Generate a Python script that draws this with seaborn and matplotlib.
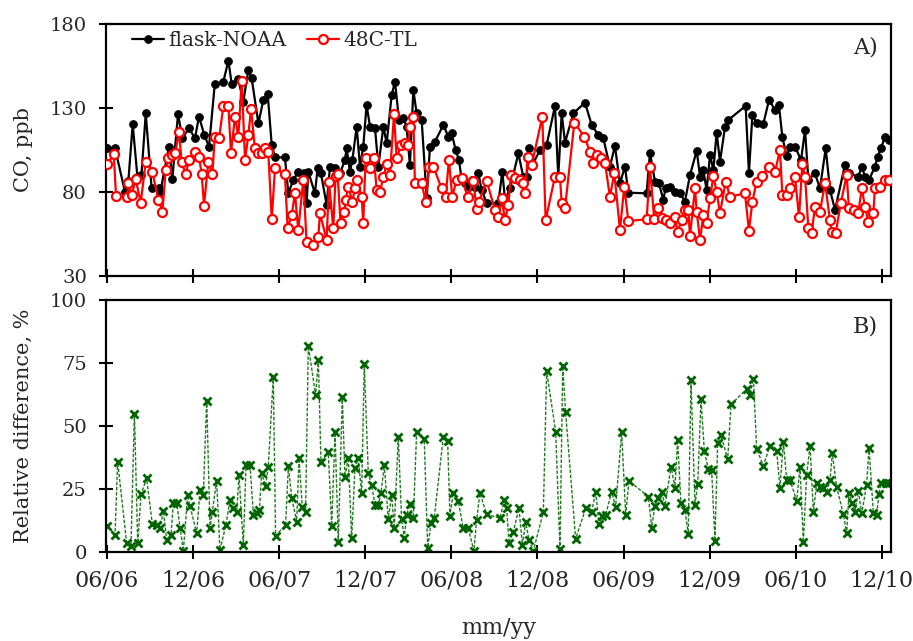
import matplotlib
matplotlib.use("Agg")
import matplotlib.pyplot as plt
import seaborn as sns
import pandas as pd

# ---- data (x = months since June 2006) ----
flask_month = [0.0, 0.56, 1.25, 1.49, 1.79, 2.12, 2.40, 2.70, 3.11, 3.62, 3.72, 4.32, 4.55, 4.95,
               5.25, 5.71, 6.13, 6.41, 6.78, 7.11, 7.51, 8.11, 8.46, 8.69, 9.15, 9.50, 9.85, 10.08,
               10.55, 10.90, 11.20, 11.48, 11.71, 12.40, 12.64, 12.98,
               13.33, 13.75, 13.91, 14.03, 14.49, 14.68, 14.91, 15.31, 15.54, 15.89, 16.24, 16.58,
               16.70, 16.93, 17.10, 17.40, 17.63, 17.86, 18.09, 18.33, 18.68, 18.91, 19.26, 19.49,
               19.84, 20.07, 20.35, 20.65, 20.88, 21.11, 21.35, 21.58, 21.93, 22.28, 22.51, 22.86,
               23.44, 23.79, 24.02, 24.30, 24.53, 24.72, 24.95, 25.23, 25.46, 25.64, 25.88, 26.11, 26.46,
               27.27, 27.55, 27.74, 28.09, 28.67, 29.01, 29.25, 29.41, 29.64, 30.18, 30.64, 31.22,
               31.45, 31.69, 31.92, 32.50, 33.31, 33.78, 34.24, 34.59, 35.05, 35.40, 35.75, 36.10,
               36.33, 37.61, 37.84, 38.19, 38.47, 38.77, 38.93, 39.24, 39.58, 39.93, 40.28, 40.63,
               41.10, 41.33, 41.56, 41.79, 42.03, 42.26, 42.49, 42.72, 43.07, 43.30, 44.51, 44.74,
               44.98, 45.28, 45.74, 46.14, 46.56, 46.83, 47.07, 47.37, 47.60, 47.95, 48.37, 48.65,
               48.88, 49.34, 49.69, 50.09, 50.39, 50.74, 51.43, 51.71, 52.36, 52.60, 52.83, 53.11,
               53.52, 53.71, 53.94, 54.22, 54.50]
flask_co = [106.0, 106.0, 80.2, 86.8, 120.3, 89.1, 90.1, 126.8, 82.2, 82.2, 80.2, 107.0, 87.6, 126.4,
            112.0, 117.9, 112.0, 124.9, 114.0, 107.0, 144.1, 145.7, 158.2, 144.3, 147.1, 133.8, 152.6, 147.7,
            120.9, 134.8, 138.3, 108.0, 100.6, 100.6, 79.2, 87.2,
            92.1, 91.1, 73.3, 92.1, 79.2, 94.1, 91.1, 72.3, 95.1, 94.1, 91.1, 99.0,
            106.0, 92.1, 99.0, 118.9, 95.1, 107.0, 131.8, 118.9, 117.9, 95.1, 118.9, 109.0,
            137.7, 145.7, 122.9, 123.9, 118.9, 96.1, 140.7, 126.8, 122.9, 76.3, 107.0, 110.0,
            119.9, 112.9, 114.9, 105.0, 99.0, 87.2, 85.2, 83.2, 87.2, 83.2, 91.1, 81.2, 73.3,
            73.3, 92.1, 75.3, 82.2, 103.0, 89.1, 89.1, 106.0, 96.1, 105.0, 108.0, 131.2,
            89.1, 126.8, 109.4, 126.8, 133.2, 119.9, 113.9, 112.0, 95.1, 107.4, 85.2, 95.1,
            79.6, 79.2, 103.4, 86.2, 85.2, 75.3, 82.2, 83.2, 80.2, 79.2, 74.3, 90.1,
            104.6, 89.1, 93.1, 81.2, 102.0, 93.1, 115.3, 98.1, 118.5, 122.9, 131.2, 91.5,
            125.8, 120.9, 120.5, 134.8, 128.8, 131.8, 112.6, 101.4, 106.6, 107.0, 99.0, 116.9,
            87.2, 91.1, 82.2, 106.0, 81.2, 69.3, 96.1, 91.1, 89.1, 95.1, 89.1, 87.2,
            95.1, 101.0, 106.0, 112.9, 111.0]

tl_month = [0.0, 0.47, 0.63, 1.40, 1.49, 1.72, 2.00, 2.35, 2.70, 3.16, 3.58, 3.86, 4.09, 4.28, 4.51,
            4.74, 5.02, 5.20, 5.48, 5.71, 6.13, 6.41, 6.60, 6.76, 7.06, 7.34, 7.51, 7.81, 8.11, 8.46,
            8.64, 8.92, 9.15, 9.39, 9.62, 9.85, 10.04, 10.31, 10.55, 10.78, 11.01, 11.24, 11.48, 11.71,
            12.40, 12.59, 12.87,
            13.10, 13.33, 13.68, 13.91, 14.38, 14.73, 14.84, 15.31, 15.47, 15.77, 15.93, 16.07, 16.28,
            16.54, 16.63, 16.82, 17.10, 17.28, 17.44, 17.75, 17.86, 18.02, 18.33, 18.61, 18.79, 19.02,
            19.26, 19.49, 19.72, 20.00, 20.19, 20.49, 20.77, 21.00, 21.11, 21.35, 21.46, 21.93, 22.21,
            22.44, 22.74, 23.32, 23.60, 23.83, 24.06, 24.37, 24.72, 25.13, 25.53, 25.76, 25.92, 26.46,
            27.04, 27.27, 27.50, 27.74, 27.97, 28.15, 28.43, 28.78, 29.01, 29.13, 29.32, 29.60, 30.34,
            30.57, 31.22, 31.57, 31.69, 31.92, 32.57, 33.27, 33.66, 33.89, 34.13, 34.43, 34.71, 35.05,
            35.36, 35.75, 36.05, 36.33, 37.61, 37.84, 38.14, 38.42, 38.66, 38.93, 39.24, 39.58, 39.77,
            40.05, 40.28, 40.51, 40.63,
            40.98, 41.10, 41.33, 41.56, 41.79, 42.03, 42.26, 42.49, 42.72, 43.12, 43.42, 44.46, 44.74,
            44.98, 45.28, 45.63, 46.14, 46.56, 46.90, 47.07, 47.37, 47.60, 47.95, 48.23, 48.46, 48.65,
            48.88, 49.11, 49.34, 49.69, 50.04, 50.39, 50.50, 50.78, 51.15, 51.55, 51.71, 52.08, 52.36,
            52.60, 52.83, 53.06, 53.41, 53.52, 53.87, 54.22, 54.50]
tl_co = [96.5, 102.4, 77.6, 77.2, 85.2, 78.2, 87.6, 73.7, 98.1, 92.1, 75.2, 68.3, 93.1, 100.0, 102.0,
         103.0, 115.5, 98.1, 90.5, 99.0, 104.0, 101.0, 90.7, 71.9, 97.7, 90.5, 112.5, 112.0, 131.2, 131.2,
         103.4, 124.9, 112.9, 146.1, 99.0, 113.9, 129.2, 106.0, 103.4, 103.0, 106.0, 104.0, 63.7, 94.1,
         90.7, 58.4, 66.3,
         79.2, 57.4, 87.2, 50.5, 48.5, 53.4, 67.3, 51.4, 86.2, 58.4, 89.5, 90.7, 61.4,
         68.3, 75.2, 83.2, 74.3, 82.2, 87.2, 77.2, 61.4, 100.0, 94.1, 100.0, 81.2, 80.2,
         88.7, 96.7, 90.1, 126.2, 100.0, 108.0, 109.0, 108.0, 118.9, 124.5, 85.6, 85.2, 74.3,
         95.1, 95.1, 82.2, 77.2, 99.0, 77.2, 87.2, 88.1, 77.2, 86.8, 69.7, 74.3, 86.6,
         69.3, 65.3, 76.3, 63.3, 72.3, 90.1, 88.1, 87.2, 85.6, 79.2, 101.0, 96.1, 124.9,
         63.3, 89.1, 89.1, 73.3, 70.3, 121.3, 112.9, 104.0, 97.1, 102.0, 100.0, 97.1, 77.2,
         91.1, 57.4, 83.2, 62.8, 63.7, 94.7, 63.7, 70.3, 64.3, 63.3, 61.8, 65.3, 56.4,
         63.3, 69.3, 69.3, 53.8,
         82.2, 68.3, 51.4, 66.3, 61.4, 76.3, 89.5, 80.2, 67.3, 86.2, 77.2, 79.2, 57.0,
         74.3, 86.2, 89.5, 95.1, 92.1, 105.0, 78.2, 78.2, 82.2, 89.1, 64.9, 96.7, 89.1,
         58.4, 55.4, 71.3, 68.3, 85.2, 63.3, 56.4, 55.4, 73.7, 90.1, 70.3, 69.3, 67.3,
         82.2, 71.3, 62.4, 67.3, 82.2, 83.2, 87.2, 87.2]

diff_month = [0.02, 0.56, 0.74, 1.37, 1.67, 1.91, 2.14, 2.37, 2.76, 3.16, 3.46, 3.69, 3.93, 4.16, 4.46,
              4.62, 4.86, 5.09, 5.32, 5.62, 5.78, 6.25, 6.48, 6.71, 6.95, 7.18, 7.34, 7.64, 7.87, 8.29,
              8.57, 8.76, 9.04, 9.20, 9.50, 9.69, 9.97, 10.20, 10.48, 10.62, 10.78, 11.06, 11.24, 11.59,
              11.75, 12.45, 12.64, 12.87,
              13.22, 13.38, 13.61, 13.84, 14.03, 14.54, 14.73, 14.91, 15.42, 15.66, 15.89, 16.12, 16.40,
              16.58, 16.82, 17.05, 17.28, 17.51, 17.75, 17.93, 18.21, 18.44, 18.68, 18.91, 19.09, 19.33,
              19.60, 19.84, 20.02, 20.30, 20.53, 20.72, 20.88, 21.11, 21.35, 21.58, 22.11, 22.35, 22.58,
              22.81, 23.44, 23.74, 23.90, 24.13, 24.48, 24.83, 25.18, 25.57, 25.76, 25.99, 26.46,
              27.39, 27.69, 27.85, 28.02, 28.32, 28.71, 28.95, 29.18, 29.41, 29.71, 30.41, 30.64, 31.27,
              31.57, 31.76, 31.96, 32.66, 33.36, 33.78, 34.06, 34.29, 34.52, 34.75, 35.17, 35.45, 35.87,
              36.15, 36.38, 37.73, 37.96, 38.19, 38.42, 38.66, 38.89, 39.31, 39.58, 39.77, 40.00, 40.28,
              40.51, 40.70,
              40.98, 41.17, 41.40, 41.63, 41.91, 42.14, 42.37, 42.56, 42.79, 43.26, 43.49, 44.58, 44.81,
              45.05, 45.28, 45.74, 46.21, 46.67, 46.90, 47.14, 47.37, 47.60, 48.07, 48.30, 48.53, 48.76,
              49.00, 49.23, 49.46, 49.69, 49.92, 50.16, 50.39, 50.55, 50.85, 51.32, 51.55, 51.71, 51.94,
              52.13, 52.36, 52.60, 52.94, 53.11, 53.41, 53.64, 53.80, 53.94, 54.27, 54.50]
diff_pct = [10.4, 6.7, 35.8, 3.4, 2.1, 54.9, 3.4, 22.8, 29.1, 10.9, 10.6, 9.3, 16.2, 4.7, 6.7,
            19.2, 19.2, 9.6, 0.3, 22.5, 18.3, 7.3, 24.5, 22.5, 60.0, 9.3, 15.9, 28.1, 0.7, 10.6,
            20.6, 17.2, 15.7, 30.5, 2.7, 34.4, 34.4, 14.6, 15.3, 16.6, 31.1, 26.2, 33.8, 69.5,
            6.4, 10.6, 34.2, 21.5,
            12.0, 37.1, 17.9, 15.9, 81.8, 62.2, 76.1, 35.8, 39.7, 10.4, 47.4, 4.0, 61.6,
            29.8, 37.4, 5.3, 33.1, 37.1, 23.2, 74.4, 31.1, 26.5, 18.6, 18.6, 23.2, 34.4,
            13.0, 22.5, 9.3, 45.7, 13.0, 5.6, 14.6, 18.8, 13.3, 47.7, 44.8, 1.6, 11.3,
            13.5, 45.7, 44.0, 14.3, 23.2, 20.2, 9.3, 9.3, 0.3, 12.6, 23.2, 14.9,
            13.3, 20.5, 17.2, 3.4, 8.0, 17.2, 2.7, 11.7, 4.7, 0.3, 15.7, 71.7, 47.7,
            1.1, 73.7, 55.6, 5.1, 17.2, 15.9, 23.8, 10.9, 14.3, 14.6, 23.8, 17.9, 47.4,
            14.6, 28.1, 21.9, 9.6, 18.3, 21.2, 23.8, 18.3, 33.8, 25.4, 44.4, 19.2, 16.6,
            6.9, 68.4,
            18.6, 26.8, 60.6, 40.0, 32.8, 32.5, 4.3, 43.0, 46.3, 36.8, 58.5, 64.6, 62.2,
            68.8, 40.8, 34.2, 42.1, 40.0, 25.4, 43.7, 28.5, 28.5, 20.2, 33.8, 3.8, 30.5,
            42.1, 15.7, 27.2, 25.8, 25.4, 23.8, 28.5, 39.1, 25.8, 14.9, 7.3, 23.2, 19.2,
            15.9, 24.1, 15.3, 26.5, 41.3, 15.3, 14.6, 22.8, 27.2, 27.2, 27.2]

tick_months = [0, 6, 12, 18, 24, 30, 36, 42, 48, 54]
tick_labels = ["06/06", "12/06", "06/07", "12/07", "06/08", "12/08", "06/09", "12/09", "06/10", "12/10"]
co_ticks = [30, 80, 130, 180]
diff_ticks = [0, 25, 50, 75, 100]

# ---- plotting ----
sns.set_theme(style="white")
plt.rcParams["font.family"] = ["DejaVu Serif"]

fig = plt.figure(figsize=(9.13, 6.41), dpi=100)
ax1 = fig.add_axes([0.1161, 0.5694, 0.8598, 0.3932])
ax2 = fig.add_axes([0.1161, 0.1393, 0.8598, 0.3927])

df_flask = pd.DataFrame({"month": flask_month, "co": flask_co})
df_tl = pd.DataFrame({"month": tl_month, "co": tl_co})
df_diff = pd.DataFrame({"month": diff_month, "pct": diff_pct})

sns.lineplot(data=df_flask, x="month", y="co", ax=ax1, color="black", linewidth=1.6,
             marker="o", markersize=5.5, markerfacecolor="black", markeredgecolor="black",
             estimator=None, sort=False, label="flask-NOAA", zorder=2)
sns.lineplot(data=df_tl, x="month", y="co", ax=ax1, color="#ff0000", linewidth=1.6,
             marker="o", markersize=6.5, markerfacecolor="white", markeredgecolor="#ff0000",
             markeredgewidth=1.6, estimator=None, sort=False, label="48C-TL", zorder=3)
sns.lineplot(data=df_diff, x="month", y="pct", ax=ax2, color="#1f7a1f", linewidth=1.0,
             linestyle=(0, (2.5, 1.2)), marker="x", markersize=6, markeredgewidth=2.0,
             markeredgecolor="#006400", estimator=None, sort=False, legend=False)

xlim = (-0.07, 54.64)
for ax in (ax1, ax2):
    ax.set_xlim(*xlim)
    ax.set_xticks(tick_months)
    for s in ax.spines.values():
        s.set_linewidth(1.6)
        s.set_color("black")
    ax.tick_params(axis="both", which="major", direction="inout", length=9.5, width=1.5,
                   color="black", bottom=True, left=True, top=False, right=False)
    ax.set_xlabel("")
    ax.grid(False)

ax1.set_ylim(30, 180)
ax1.set_yticks(co_ticks)
ax1.set_xticklabels([])
ax1.tick_params(axis="y", labelsize=14, pad=9)
ax1.set_ylabel("CO, ppb", fontsize=15)
ax1.yaxis.set_label_coords(-0.093, 0.5)

ax2.set_ylim(0, 100)
ax2.set_yticks(diff_ticks)
ax2.set_xticklabels(tick_labels)
ax2.tick_params(axis="y", labelsize=14, pad=9)
ax2.tick_params(axis="x", labelsize=16, pad=8)
ax2.set_ylabel("Relative difference, %", fontsize=15)
ax2.yaxis.set_label_coords(-0.093, 0.5)
ax2.set_xlabel("mm/yy", fontsize=16)
ax2.xaxis.set_label_coords(0.5, -0.26)

leg = ax1.legend(loc="upper left", bbox_to_anchor=(0.018, 1.02), ncol=2, frameon=False,
                 fontsize=14.5, handlelength=1.6, handletextpad=0.2, columnspacing=1.0,
                 borderaxespad=0.2)

ax1.text(0.983, 0.905, "A)", transform=ax1.transAxes, ha="right", va="center", fontsize=16)
ax2.text(0.983, 0.893, "B)", transform=ax2.transAxes, ha="right", va="center", fontsize=16)

fig.savefig("out.png", dpi=100)
